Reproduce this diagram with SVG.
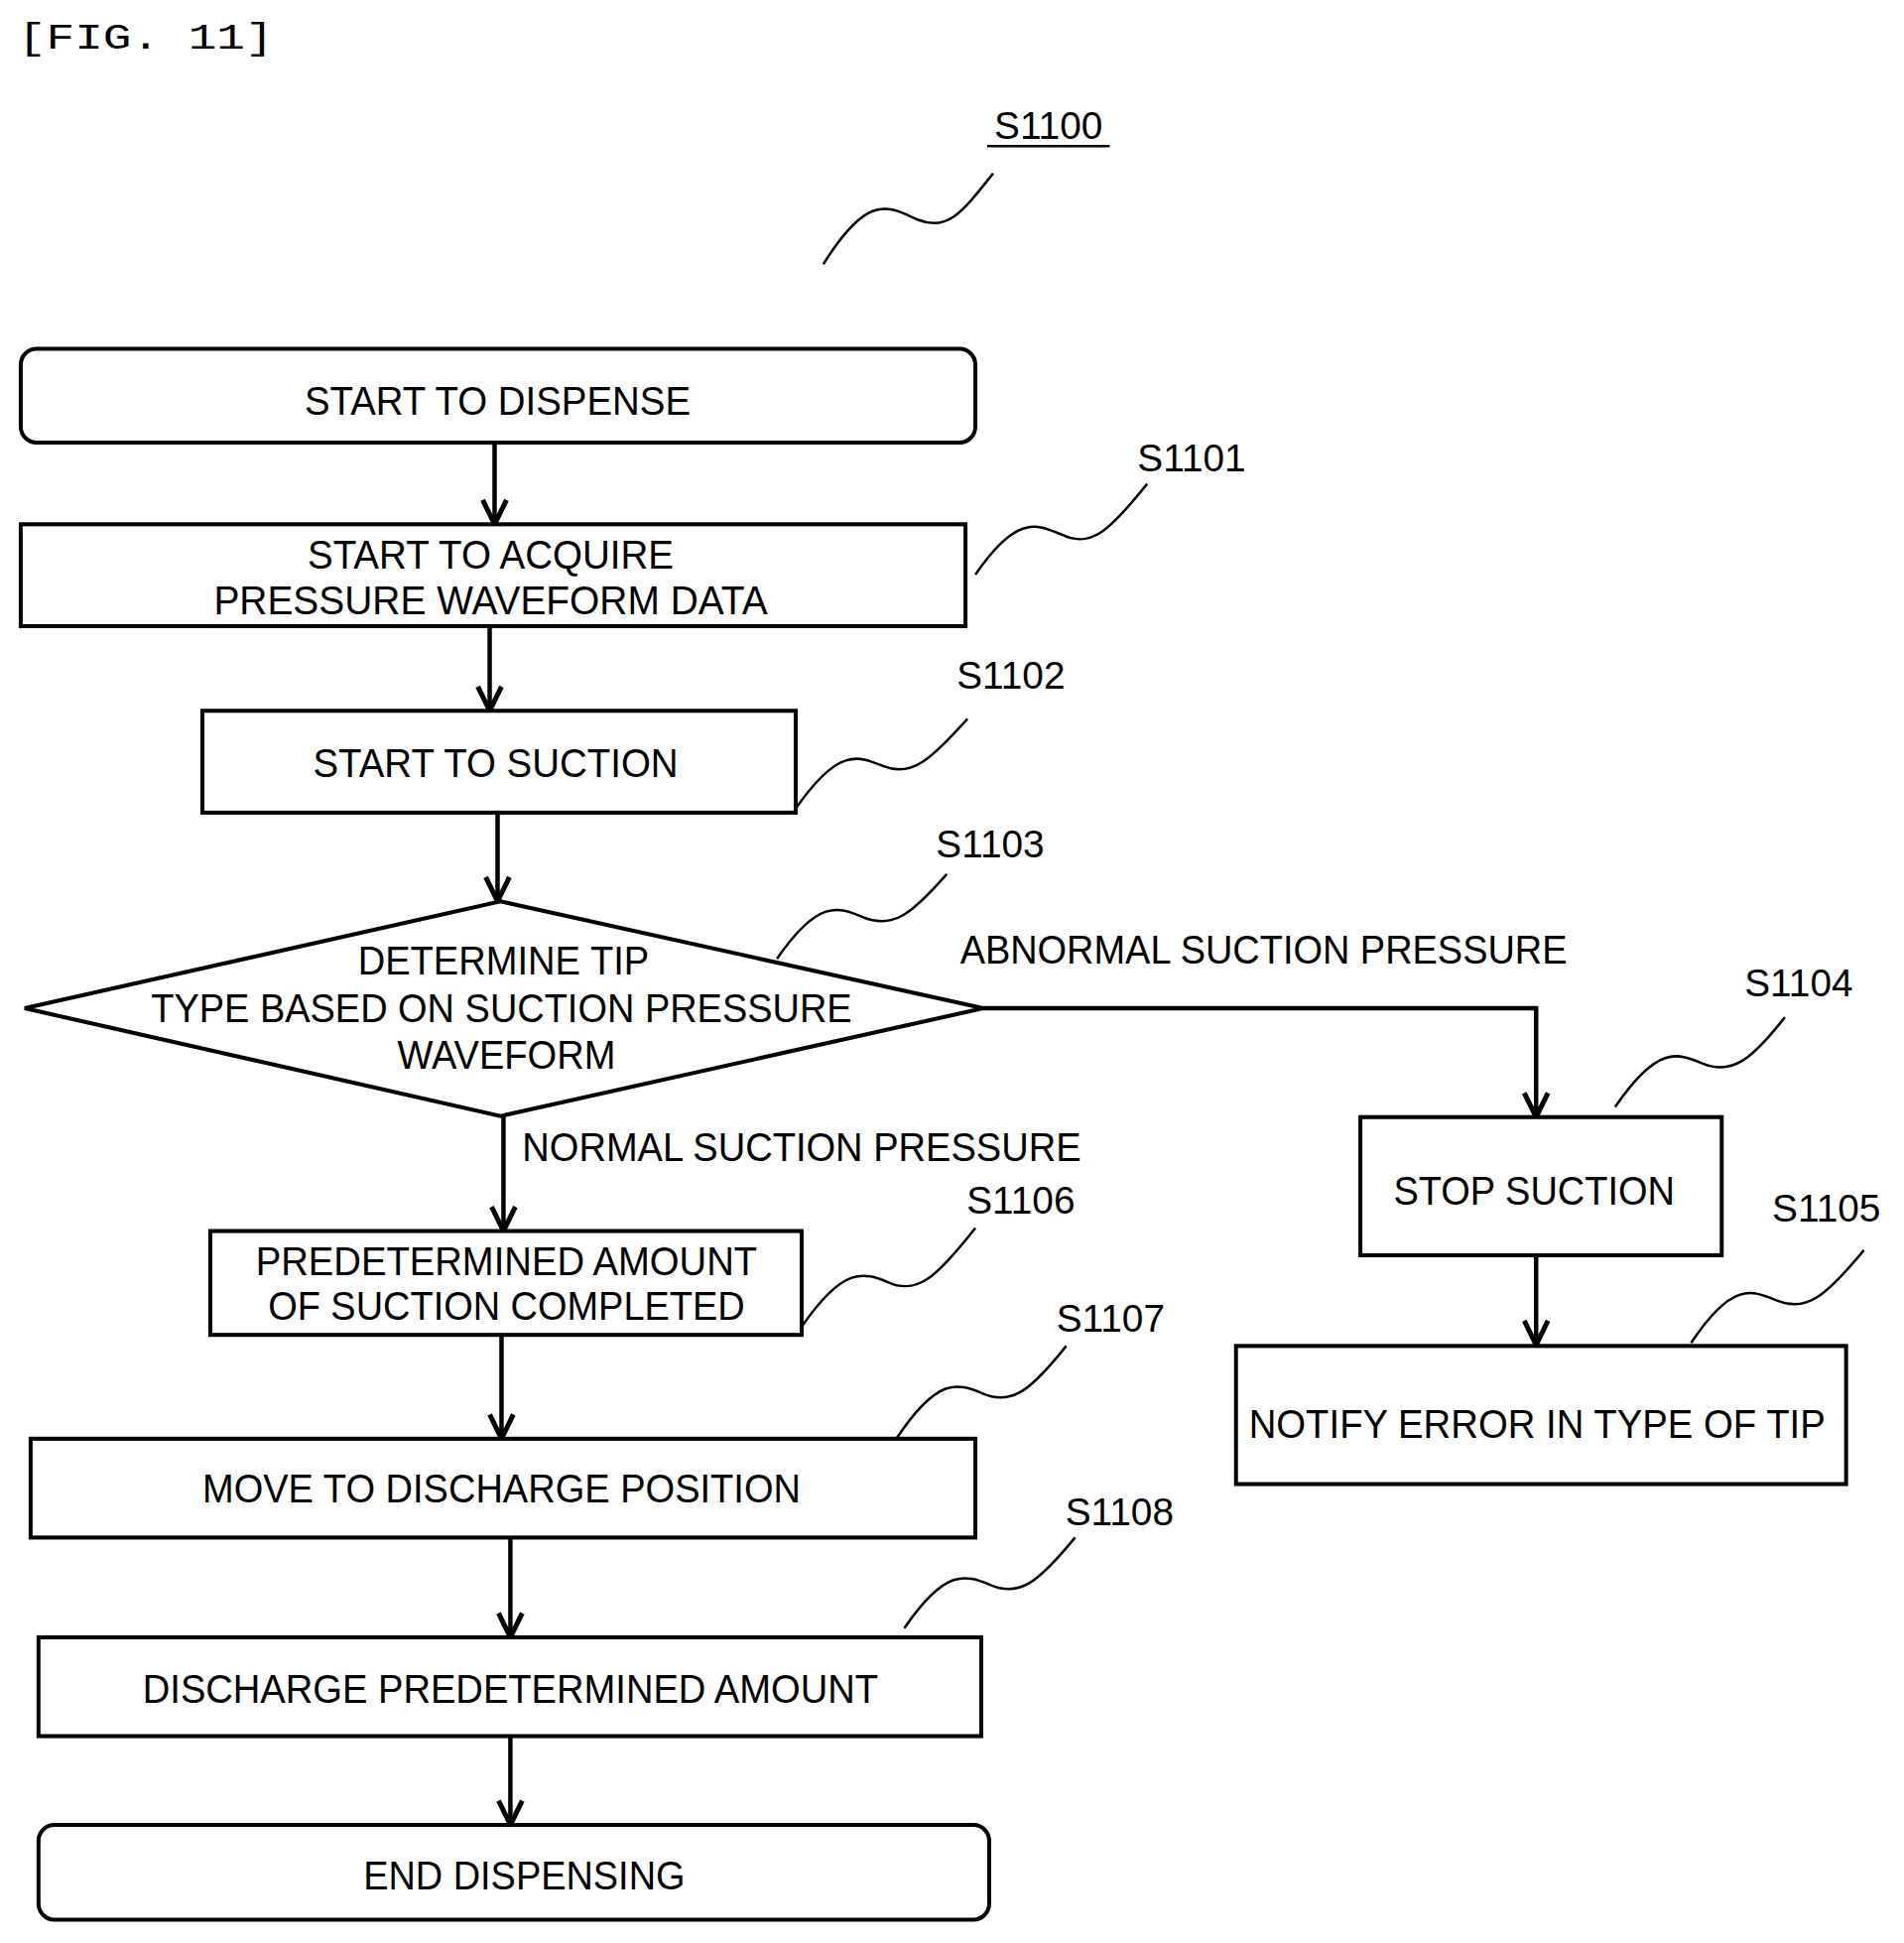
<svg xmlns="http://www.w3.org/2000/svg" width="1919" height="1958" viewBox="0 0 1919 1958">
<style>
.b{fill:#fff;stroke:#000;stroke-width:4}
.t{font-family:"Liberation Sans",Arial,sans-serif;font-size:40px;text-anchor:middle;fill:#000}
.l{font-family:"Liberation Sans",Arial,sans-serif;font-size:39px;text-anchor:middle;fill:#000}
.c{fill:none;stroke:#000;stroke-width:4.5}
.s{fill:none;stroke:#000;stroke-width:2.5}
</style>
<defs>
<marker id="a" viewBox="0 0 30 30" refX="27" refY="15" markerWidth="30" markerHeight="30" markerUnits="userSpaceOnUse" orient="auto">
<polyline points="3,3 27,15 3,27" fill="none" stroke="#000" stroke-width="5"/>
</marker>
</defs>
<rect width="1919" height="1958" fill="#fff"/>
<g transform="matrix(0.995,0,0,1.016,0,0)">
<text x="18" y="48" font-family="Liberation Mono,monospace" font-size="37" textLength="259" lengthAdjust="spacingAndGlyphs">[FIG. 11]</text>
<text x="1062" y="138" class="l">S1100</text>
<line x1="1000" y1="145" x2="1124" y2="145" stroke="#000" stroke-width="2.5"/>
<path class="s" d="M834,262 C880,190 900,205 930,218 C960,230 975,210 1006,172"/>
<g id="connectors">
<line class="c" x1="501" y1="439" x2="501" y2="520" marker-end="url(#a)"/>
<line class="c" x1="496" y1="621" x2="496" y2="705" marker-end="url(#a)"/>
<line class="c" x1="504" y1="806" x2="504" y2="894" marker-end="url(#a)"/>
<polyline class="c" points="996,1000 1556,1000 1556,1108" marker-end="url(#a)"/>
<line class="c" x1="1556" y1="1245" x2="1556" y2="1334" marker-end="url(#a)"/>
<line class="c" x1="510" y1="1107" x2="510" y2="1221" marker-end="url(#a)"/>
<line class="c" x1="508" y1="1324" x2="508" y2="1427" marker-end="url(#a)"/>
<line class="c" x1="517" y1="1525" x2="517" y2="1624" marker-end="url(#a)"/>
<line class="c" x1="517" y1="1722" x2="517" y2="1810" marker-end="url(#a)"/>
<text x="1280" y="956" class="t" textLength="615" lengthAdjust="spacingAndGlyphs">ABNORMAL SUCTION PRESSURE</text>
<text x="812" y="1152" class="t" textLength="566" lengthAdjust="spacingAndGlyphs">NORMAL SUCTION PRESSURE</text>
</g>
<g id="start"><rect class="b" x="21" y="346" width="967" height="93" rx="16"/>
<text x="504" y="411" class="t" textLength="391" lengthAdjust="spacingAndGlyphs">START TO DISPENSE</text></g>
<g id="s1101"><rect class="b" x="21" y="520" width="957" height="101"/>
<text x="497" y="564" class="t" textLength="371" lengthAdjust="spacingAndGlyphs">START TO ACQUIRE</text>
<text x="497" y="609" class="t" textLength="561" lengthAdjust="spacingAndGlyphs">PRESSURE WAVEFORM DATA</text>
<path class="s" d="M988,570 C1030,510 1050,520 1075,530 C1105,545 1125,525 1162,480"/>
<text x="1207" y="468" class="l">S1101</text></g>
<g id="s1102"><rect class="b" x="205" y="705" width="601" height="101"/>
<text x="502" y="771" class="t" textLength="370" lengthAdjust="spacingAndGlyphs">START TO SUCTION</text>
<path class="s" d="M806,802 C850,740 870,750 895,760 C925,772 945,750 980,713"/>
<text x="1024" y="683" class="l">S1102</text></g>
<g id="s1103"><polygon class="b" points="507,894 996,1000 507,1107 25,1000"/>
<text x="510" y="967" class="t" textLength="295" lengthAdjust="spacingAndGlyphs">DETERMINE TIP</text>
<text x="508" y="1014" class="t" textLength="710" lengthAdjust="spacingAndGlyphs">TYPE BASED ON SUCTION PRESSURE</text>
<text x="513" y="1060" class="t" textLength="221" lengthAdjust="spacingAndGlyphs">WAVEFORM</text>
<path class="s" d="M787,951 C830,890 850,900 875,910 C905,922 925,905 959,867"/>
<text x="1003" y="850" class="l">S1103</text></g>
<g id="s1104"><rect class="b" x="1378" y="1108" width="366" height="137"/>
<text x="1554" y="1195" class="t" textLength="285" lengthAdjust="spacingAndGlyphs">STOP SUCTION</text>
<path class="s" d="M1636,1098 C1680,1035 1700,1045 1725,1055 C1755,1067 1775,1050 1808,1009"/>
<text x="1822" y="988" class="l">S1104</text></g>
<g id="s1105"><rect class="b" x="1252" y="1335" width="618" height="137"/>
<text x="1557" y="1426" class="t" textLength="584" lengthAdjust="spacingAndGlyphs">NOTIFY ERROR IN TYPE OF TIP</text>
<path class="s" d="M1713,1332 C1755,1270 1775,1280 1800,1290 C1830,1302 1850,1285 1888,1240"/>
<text x="1850" y="1212" class="l">S1105</text></g>
<g id="s1106"><rect class="b" x="213" y="1221" width="599" height="103"/>
<text x="513" y="1265" class="t" textLength="508" lengthAdjust="spacingAndGlyphs">PREDETERMINED AMOUNT</text>
<text x="513" y="1309" class="t" textLength="483" lengthAdjust="spacingAndGlyphs">OF SUCTION COMPLETED</text>
<path class="s" d="M812,1316 C855,1255 875,1262 900,1272 C930,1285 950,1265 988,1218"/>
<text x="1034" y="1204" class="l">S1106</text></g>
<g id="s1107"><rect class="b" x="31" y="1427" width="957" height="98"/>
<text x="508" y="1490" class="t" textLength="606" lengthAdjust="spacingAndGlyphs">MOVE TO DISCHARGE POSITION</text>
<path class="s" d="M908,1427 C950,1365 970,1372 995,1382 C1025,1395 1045,1378 1080,1335"/>
<text x="1125" y="1321" class="l">S1107</text></g>
<g id="s1108"><rect class="b" x="39" y="1624" width="955" height="98"/>
<text x="517" y="1689" class="t" textLength="745" lengthAdjust="spacingAndGlyphs">DISCHARGE PREDETERMINED AMOUNT</text>
<path class="s" d="M916,1615 C958,1555 978,1562 1003,1572 C1033,1585 1053,1568 1089,1525"/>
<text x="1134" y="1513" class="l">S1108</text></g>
<g id="end"><rect class="b" x="39" y="1810" width="963" height="94" rx="16"/>
<text x="531" y="1874" class="t" textLength="326" lengthAdjust="spacingAndGlyphs">END DISPENSING</text></g>
</g>
</svg>
